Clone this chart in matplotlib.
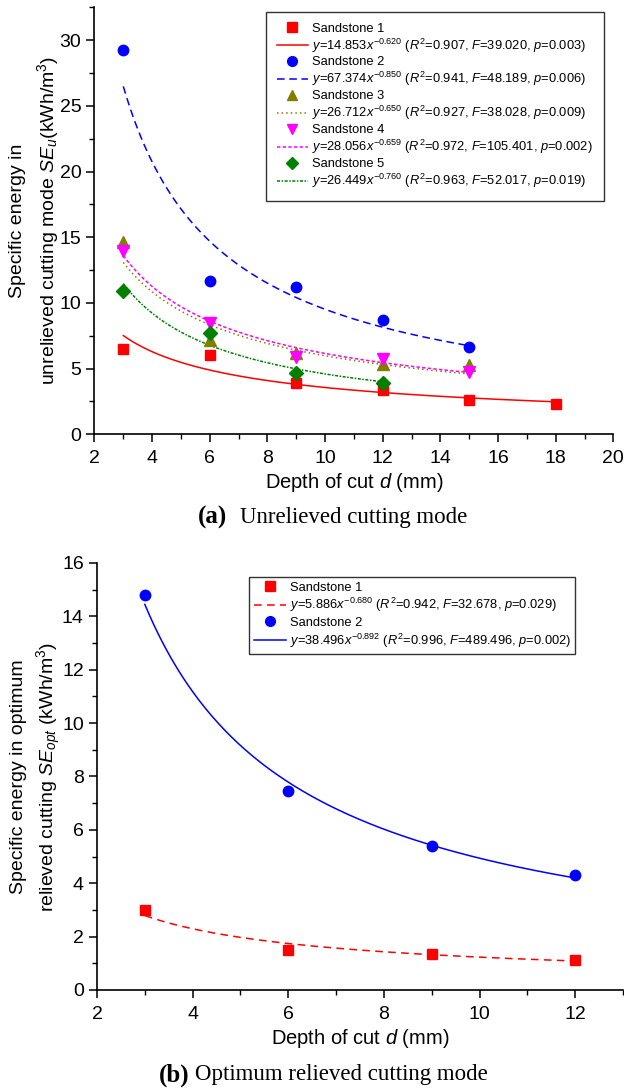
import numpy as np
import matplotlib
matplotlib.use("Agg")
import matplotlib.pyplot as plt
from matplotlib.ticker import MultipleLocator
from matplotlib.lines import Line2D

plt.rcParams['font.family'] = ['Liberation Sans', 'DejaVu Sans']
plt.rcParams['mathtext.fontset'] = 'custom'
plt.rcParams['mathtext.rm'] = 'Liberation Sans'
plt.rcParams['mathtext.it'] = 'Liberation Sans:italic'
plt.rcParams['mathtext.bf'] = 'Liberation Sans:bold'

# ---- datos modo no aliviado (a) ----
prof_a = [3, 6, 9, 12, 15, 18]
se_u = {
    "Sandstone 1": [6.47, 6.04, 3.9, 3.37, 2.6, 2.28],
    "Sandstone 2": [29.25, 11.67, 11.2, 8.7, 6.67],
    "Sandstone 3": [14.67, 7.18, 6.2, 5.35, 5.3],
    "Sandstone 4": [13.98, 8.5, 5.86, 5.7, 4.77],
    "Sandstone 5": [10.91, 7.69, 4.65, 3.9],
}
# ajuste potencial y = a*x^b
coef_a = [14.853, 67.374, 26.712, 28.056, 26.449]
expo_a = [-0.620, -0.850, -0.650, -0.659, -0.760]
r2_a = ["0.907", "0.941", "0.927", "0.972", "0.963"]
f_a = ["39.020", "48.189", "38.028", "105.401", "52.017"]
p_a = ["0.003", "0.006", "0.009", "0.002", "0.019"]

# ---- datos modo aliviado optimo (b) ----
prof_b = [3, 6, 9, 12]
se_opt = {
    "Sandstone 1": [3.0, 1.5, 1.34, 1.12],
    "Sandstone 2": [14.8, 7.45, 5.4, 4.31],
}
coef_b = [5.886, 38.496]
expo_b = [-0.680, -0.892]
r2_b = ["0.942", "0.996"]
f_b = ["32.678", "489.496"]
p_b = ["0.029", "0.002"]

colores = ["#ff0000", "#0000ff", "#808000", "#ff00ff", "#008000"]
marcadores = ["s", "o", "^", "v", "D"]
tam_marcador = [7, 7.5, 8, 8, 7]
lineas_a = ["-", (0, (5, 3)), (0, (1, 2)), (0, (2.2, 1.5)), (0, (2, 1, 1, 1))]
lineas_b = [(0, (5, 3.5)), "-"]


def etiqueta(a, b, r2, f, p):
    return ("$y$=%.3f$x^{%.3f}$ ($R^2$=%s, $F$=%s, $p$=%s)" % (a, b, r2, f, p))


def estilo_ejes(ax):
    ax.spines['top'].set_visible(False)
    ax.spines['right'].set_visible(False)
    for s in ['left', 'bottom']:
        ax.spines[s].set_linewidth(1.2)
    ax.tick_params(which='major', direction='out', length=5.5, width=1.1, labelsize=14)
    ax.tick_params(which='minor', direction='out', length=3.5, width=1.0)
    ax.tick_params(axis='y', which='major', pad=4)
    ax.tick_params(axis='x', which='major', pad=6)


def graficar(ax, prof, datos, coef, expo, r2, f, p, lineas):
    handles, labels = [], []
    for i, (nombre, vals) in enumerate(datos.items()):
        xs = prof[:len(vals)]
        ax.plot(xs, vals, linestyle='none', marker=marcadores[i], color=colores[i],
                markersize=tam_marcador[i], zorder=3)
        xx = np.linspace(xs[0], xs[-1], 200)
        ax.plot(xx, coef[i] * xx ** expo[i], color=colores[i], linestyle=lineas[i], lw=1.1)
        handles.append(Line2D([], [], linestyle='none', marker=marcadores[i],
                              color=colores[i], markersize=tam_marcador[i] - 0.5))
        labels.append(nombre)
        handles.append(Line2D([], [], color=colores[i], linestyle=lineas[i], lw=1.1))
        labels.append(etiqueta(coef[i], expo[i], r2[i], f[i], p[i]))
    return handles, labels


def pie(fig, y, x_letra, x_texto, letra, texto):
    fig.text(x_letra, y, letra, ha='right', va='center', fontsize=18,
             family='Liberation Serif', fontweight='bold')
    fig.text(x_texto, y, texto, ha='left', va='center', fontsize=16.5,
             family='Liberation Serif')


fig = plt.figure(figsize=(6.24, 10.91), dpi=100)

# (a) modo no aliviado
ax1 = fig.add_axes([0.1514, 0.6019, 0.8315, 0.3914])
h, l = graficar(ax1, prof_a, se_u, coef_a, expo_a, r2_a, f_a, p_a, lineas_a)
ax1.set_xlim(2, 20)
ax1.set_ylim(0, 32.5)
ax1.xaxis.set_major_locator(MultipleLocator(2))
ax1.xaxis.set_minor_locator(MultipleLocator(1))
ax1.yaxis.set_major_locator(MultipleLocator(5))
ax1.yaxis.set_minor_locator(MultipleLocator(2.5))
estilo_ejes(ax1)
ax1.set_xlabel("Depth of cut $d$ (mm)", fontsize=14.5, labelpad=3)
ax1.set_ylabel("Specific energy in\nunrelieved cutting mode $SE_u$(kWh/m$^3$)",
               fontsize=14, labelpad=-1, linespacing=1.45)
leg = ax1.legend(h, l, loc='upper right', bbox_to_anchor=(0.982, 0.99), fontsize=9.3,
                 frameon=True, fancybox=False, edgecolor='black', borderaxespad=0.0,
                 handlelength=2.4, labelspacing=0.14, borderpad=0.85, handletextpad=0.35)
leg.get_frame().set_linewidth(1.0)

pie(fig, 0.526, 227 / 624, 240 / 624, "(a)", "Unrelieved cutting mode")

# (b) modo aliviado optimo
ax2 = fig.add_axes([0.1554, 0.0926, 0.8432, 0.3914])
h, l = graficar(ax2, prof_b, se_opt, coef_b, expo_b, r2_b, f_b, p_b, lineas_b)
ax2.set_xlim(2, 13)
ax2.set_ylim(0, 16)
ax2.xaxis.set_major_locator(MultipleLocator(2))
ax2.xaxis.set_minor_locator(MultipleLocator(1))
ax2.yaxis.set_major_locator(MultipleLocator(2))
ax2.yaxis.set_minor_locator(MultipleLocator(1))
estilo_ejes(ax2)
ax2.set_xlabel("Depth of cut $d$ (mm)", fontsize=14.5, labelpad=3)
ax2.set_ylabel("Specific energy in optimum\nrelieved cutting $SE_{opt}$ (kWh/m$^3$)",
               fontsize=14, labelpad=-1, linespacing=1.45)
leg = ax2.legend(h, l, loc='upper left', bbox_to_anchor=(0.289, 0.967), fontsize=9.3,
                 frameon=True, fancybox=False, edgecolor='black', borderaxespad=0.0,
                 handlelength=2.5, labelspacing=0.2, borderpad=0.35, handletextpad=0.3)
leg.get_frame().set_linewidth(1.0)

pie(fig, 0.0147, 189 / 624, 195 / 624, "(b)", "Optimum relieved cutting mode")

fig.savefig("out.png", dpi=100)
